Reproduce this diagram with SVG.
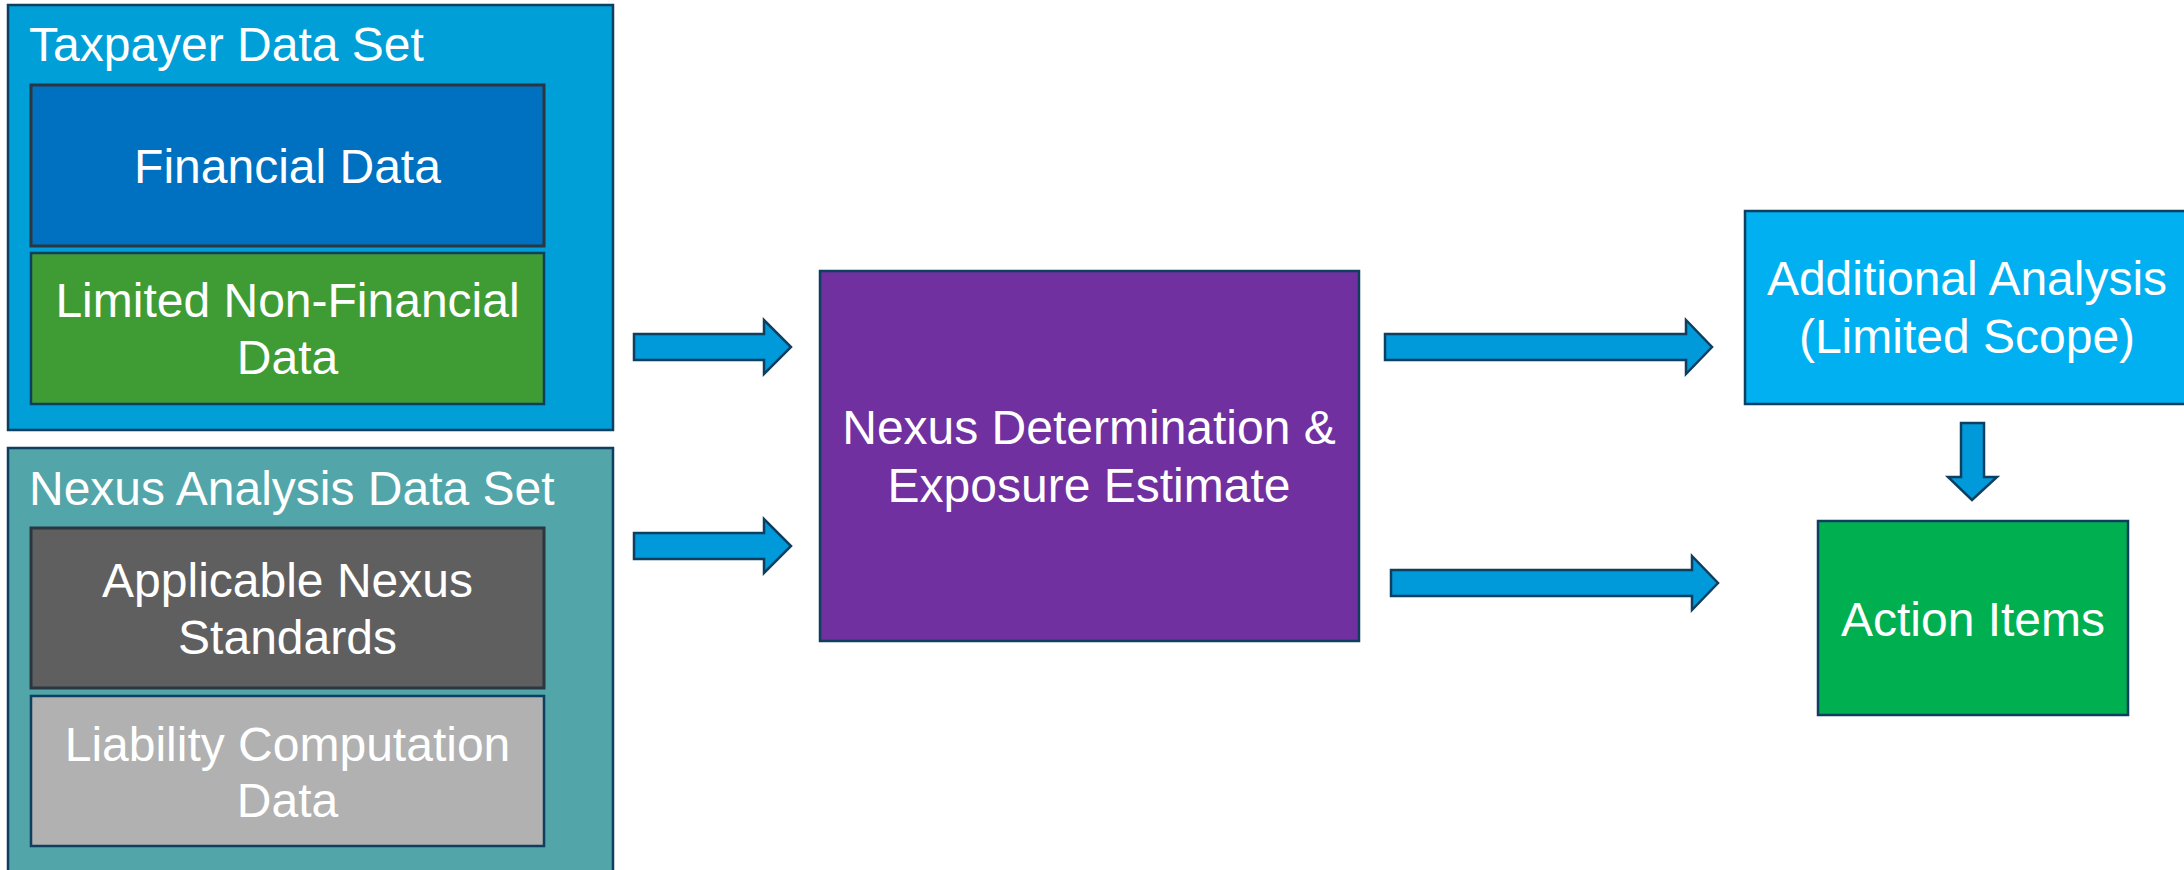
<svg xmlns="http://www.w3.org/2000/svg" width="2184" height="870" viewBox="0 0 2184 870">
  <style>
    .box { stroke: #0F3F5F; stroke-width: 2.5; }
    .dark { stroke: #2B3640; stroke-width: 3; }
    .lbl { font-family: "Liberation Sans", Arial, sans-serif; font-size: 48px; fill: #FFFFFF; }
    .mid { text-anchor: middle; }
    .arrow { fill: #0099DA; stroke: #0F3F5F; stroke-width: 2.5; stroke-linejoin: miter; }
  </style>
  <rect width="2184" height="870" fill="#FFFFFF"/>

  <!-- Taxpayer data set container -->
  <g id="taxpayer-data-set">
    <rect class="box" x="8" y="5" width="605" height="425" fill="#009FD7"/>
    <text class="lbl" x="29" y="61">Taxpayer Data Set</text>
  </g>
  <g id="financial-data">
    <rect class="dark" x="31" y="85" width="513" height="161" fill="#0070C0"/>
    <text class="lbl mid" x="287.5" y="183">Financial Data</text>
  </g>
  <g id="limited-non-financial-data">
    <rect class="box" x="31" y="253" width="513" height="151" fill="#3F9C35"/>
    <text class="lbl mid" x="287.5" y="317">Limited Non-Financial</text>
    <text class="lbl mid" x="287.5" y="374">Data</text>
  </g>

  <!-- Nexus analysis data set container -->
  <g id="nexus-analysis-data-set">
    <rect class="box" x="8" y="448" width="605" height="440" fill="#52A5A8"/>
    <text class="lbl" x="29" y="505">Nexus Analysis Data Set</text>
  </g>
  <g id="applicable-nexus-standards">
    <rect class="dark" x="31" y="528" width="513" height="160" fill="#5F5F5F"/>
    <text class="lbl mid" x="287.5" y="597">Applicable Nexus</text>
    <text class="lbl mid" x="287.5" y="654">Standards</text>
  </g>
  <g id="liability-computation-data">
    <rect class="box" x="31" y="696" width="513" height="150" fill="#B1B1B1"/>
    <text class="lbl mid" x="287.5" y="761">Liability Computation</text>
    <text class="lbl mid" x="287.5" y="817">Data</text>
  </g>

  <!-- Central determination step -->
  <g id="nexus-determination">
    <rect class="box" x="820" y="271" width="539" height="370" fill="#7030A0"/>
    <text class="lbl mid" x="1089" y="444">Nexus Determination &amp;</text>
    <text class="lbl mid" x="1089" y="502">Exposure Estimate</text>
  </g>

  <!-- Outcomes -->
  <g id="additional-analysis">
    <rect class="box" x="1745" y="211" width="460" height="193" fill="#00B0F0"/>
    <text class="lbl mid" x="1967" y="295">Additional Analysis</text>
    <text class="lbl mid" x="1967" y="353">(Limited Scope)</text>
  </g>
  <g id="action-items">
    <rect class="box" x="1818" y="521" width="310" height="194" fill="#00B050"/>
    <text class="lbl mid" x="1973" y="636">Action Items</text>
  </g>

  <!-- Block arrows -->
  <g id="connectors">
    <polygon class="arrow" points="634,334 764,334 764,320 791,347 764,374 764,360 634,360"/>
    <polygon class="arrow" points="634,533 764,533 764,519 791,546 764,573 764,559 634,559"/>
    <polygon class="arrow" points="1385,334 1686,334 1686,320 1712,347 1686,374 1686,360 1385,360"/>
    <polygon class="arrow" points="1391,570 1692,570 1692,556 1718,583 1692,610 1692,596 1391,596"/>
    <polygon class="arrow" points="1961,423 1984,423 1984,477 1997,477 1972,500 1948,477 1961,477"/>
  </g>
</svg>
